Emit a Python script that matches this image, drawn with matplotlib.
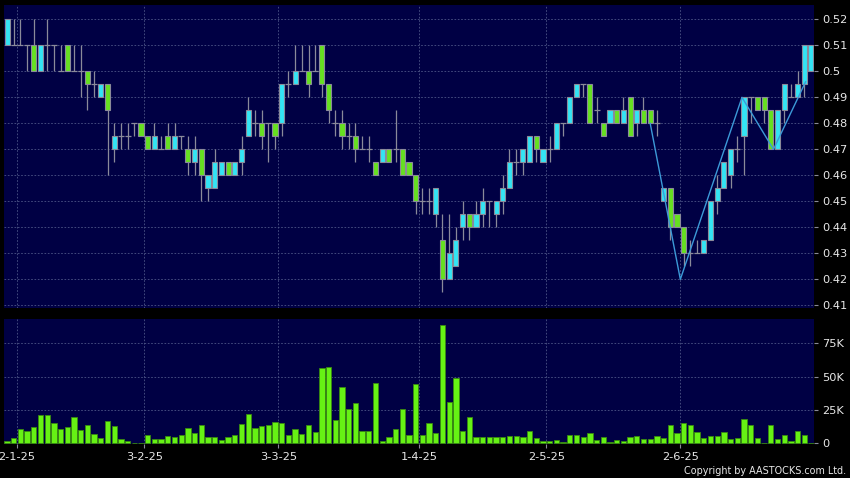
import matplotlib.pyplot as plt
import numpy as np

# daily candles, 30-12-24 .. 27-6-25 (trading days only)
opens = [0.51, 0.51, 0.51, 0.51, 0.51, 0.50, 0.51, 0.51, 0.50, 0.51,
         0.50, 0.50, 0.50, 0.495, 0.49, 0.495, 0.47, 0.475, 0.475, 0.48,
         0.48, 0.475, 0.47, 0.47, 0.475, 0.47, 0.475, 0.47, 0.465, 0.47,
         0.455, 0.455, 0.46, 0.465, 0.46, 0.465, 0.475, 0.48, 0.48, 0.48,
         0.48, 0.48, 0.495, 0.495, 0.50, 0.50, 0.50, 0.51, 0.495, 0.48,
         0.48, 0.475, 0.475, 0.47, 0.47, 0.465, 0.465, 0.47, 0.47, 0.47,
         0.465, 0.46, 0.45, 0.45, 0.445, 0.435, 0.42, 0.425, 0.44, 0.445,
         0.44, 0.445, 0.45, 0.445, 0.45, 0.455, 0.465, 0.465, 0.465, 0.475,
         0.465, 0.47, 0.47, 0.48, 0.48, 0.49, 0.495, 0.495, 0.485, 0.48,
         0.48, 0.485, 0.48, 0.49, 0.48, 0.485, 0.485, 0.48, 0.45, 0.455,
         0.445, 0.44, 0.43, 0.43, 0.43, 0.435, 0.45, 0.455, 0.46, 0.47,
         0.475, 0.49, 0.49, 0.49, 0.485, 0.47, 0.485, 0.49, 0.49, 0.495,
         0.50]
highs = [0.52, 0.52, 0.52, 0.51, 0.52, 0.51, 0.52, 0.51, 0.51, 0.51,
         0.51, 0.51, 0.50, 0.50, 0.495, 0.495, 0.48, 0.48, 0.48, 0.48,
         0.48, 0.475, 0.48, 0.475, 0.48, 0.48, 0.475, 0.475, 0.475, 0.47,
         0.46, 0.47, 0.465, 0.465, 0.465, 0.475, 0.49, 0.485, 0.485, 0.48,
         0.48, 0.495, 0.50, 0.51, 0.51, 0.51, 0.51, 0.51, 0.495, 0.485,
         0.485, 0.48, 0.48, 0.475, 0.475, 0.465, 0.47, 0.47, 0.485, 0.47,
         0.465, 0.46, 0.455, 0.455, 0.455, 0.445, 0.445, 0.44, 0.45, 0.445,
         0.45, 0.455, 0.45, 0.45, 0.46, 0.47, 0.47, 0.47, 0.475, 0.475,
         0.47, 0.475, 0.48, 0.48, 0.49, 0.495, 0.495, 0.495, 0.49, 0.48,
         0.485, 0.485, 0.49, 0.49, 0.485, 0.49, 0.485, 0.485, 0.455, 0.455,
         0.445, 0.44, 0.435, 0.435, 0.435, 0.45, 0.46, 0.465, 0.47, 0.475,
         0.49, 0.49, 0.49, 0.49, 0.485, 0.485, 0.495, 0.495, 0.50, 0.51,
         0.51]
lows = [0.51, 0.51, 0.51, 0.50, 0.50, 0.50, 0.50, 0.50, 0.50, 0.50,
        0.50, 0.49, 0.485, 0.49, 0.49, 0.46, 0.465, 0.47, 0.47, 0.475,
        0.475, 0.47, 0.47, 0.47, 0.47, 0.47, 0.47, 0.46, 0.46, 0.45,
        0.45, 0.455, 0.46, 0.46, 0.46, 0.46, 0.475, 0.475, 0.47, 0.465,
        0.47, 0.475, 0.49, 0.495, 0.50, 0.49, 0.50, 0.49, 0.48, 0.475,
        0.47, 0.47, 0.465, 0.47, 0.465, 0.46, 0.465, 0.465, 0.465, 0.46,
        0.46, 0.445, 0.445, 0.445, 0.44, 0.415, 0.42, 0.425, 0.435, 0.435,
        0.44, 0.44, 0.44, 0.44, 0.445, 0.455, 0.46, 0.46, 0.465, 0.465,
        0.465, 0.465, 0.47, 0.475, 0.48, 0.49, 0.49, 0.48, 0.48, 0.475,
        0.48, 0.48, 0.48, 0.475, 0.475, 0.48, 0.48, 0.475, 0.45, 0.435,
        0.44, 0.425, 0.425, 0.43, 0.43, 0.435, 0.445, 0.455, 0.455, 0.465,
        0.46, 0.48, 0.485, 0.48, 0.47, 0.47, 0.48, 0.49, 0.49, 0.49,
        0.50]
closes = [0.52, 0.51, 0.51, 0.51, 0.50, 0.51, 0.51, 0.51, 0.50, 0.50,
          0.50, 0.50, 0.495, 0.495, 0.495, 0.485, 0.475, 0.475, 0.475, 0.48,
          0.475, 0.47, 0.475, 0.47, 0.47, 0.475, 0.475, 0.465, 0.47, 0.46,
          0.46, 0.465, 0.465, 0.46, 0.465, 0.47, 0.485, 0.48, 0.475, 0.48,
          0.475, 0.495, 0.495, 0.50, 0.50, 0.495, 0.50, 0.495, 0.485, 0.48,
          0.475, 0.475, 0.47, 0.47, 0.47, 0.46, 0.47, 0.465, 0.47, 0.46,
          0.46, 0.45, 0.45, 0.45, 0.455, 0.42, 0.43, 0.435, 0.445, 0.44,
          0.445, 0.45, 0.45, 0.45, 0.455, 0.465, 0.465, 0.47, 0.475, 0.47,
          0.47, 0.47, 0.48, 0.48, 0.49, 0.495, 0.495, 0.48, 0.485, 0.475,
          0.485, 0.48, 0.485, 0.475, 0.485, 0.48, 0.48, 0.48, 0.455, 0.44,
          0.44, 0.43, 0.43, 0.43, 0.435, 0.45, 0.455, 0.465, 0.47, 0.47,
          0.49, 0.49, 0.485, 0.485, 0.47, 0.485, 0.495, 0.49, 0.495, 0.51,
          0.51]
volumes_k = [2.2, 4.0, 10.7, 9.2, 12.5, 21.7, 21.7, 15.0, 11.0, 12.2,
             20.2, 10.2, 13.7, 7.0, 4.0, 17.2, 13.2, 3.7, 2.2, 0.7,
             0.2, 6.7, 3.2, 3.0, 5.5, 4.7, 6.2, 11.7, 8.2, 13.7,
             5.0, 5.0, 2.5, 4.7, 6.5, 14.5, 22.2, 11.7, 13.0, 14.2,
             16.2, 15.2, 6.2, 11.2, 7.2, 13.5, 8.5, 56.7, 57.5, 17.7,
             42.7, 25.7, 30.5, 9.7, 9.7, 45.2, 1.5, 5.0, 10.7, 25.7,
             6.2, 44.5, 6.2, 15.5, 8.0, 88.5, 31.0, 49.0, 9.0, 20.0,
             4.7, 4.7, 4.7, 5.0, 5.0, 5.5, 5.5, 4.5, 9.5, 4.2,
             2.0, 1.7, 2.7, 1.2, 6.0, 6.0, 4.7, 7.5, 2.5, 4.5,
             1.2, 2.5, 1.5, 4.5, 5.5, 3.0, 3.5, 5.7, 4.0, 13.7,
             7.5, 15.2, 13.5, 8.5, 4.0, 5.7, 5.7, 8.5, 3.5, 4.2,
             18.0, 14.2, 4.0, 0.3, 13.5, 3.5, 6.7, 2.0, 9.5, 6.0,
             0.3]

# zigzag overlay (day index, price)
zigzag_x = [96, 100.5, 109.7, 114.4, 119.2]
zigzag_y = [0.48, 0.42, 0.49, 0.47, 0.496]

# first trading day of each month, as day index
month_idx = [2, 21, 41, 62, 81, 101]
month_labels = ['2-1-25', '3-2-25', '3-3-25', '1-4-25', '2-5-25', '2-6-25']

price_ticks = [0.41, 0.42, 0.43, 0.44, 0.45, 0.46, 0.47, 0.48, 0.49, 0.50, 0.51, 0.52]
price_labels = ['0.41', '0.42', '0.43', '0.44', '0.45', '0.46', '0.47', '0.48',
                '0.49', '0.5', '0.51', '0.52']
vol_ticks = [0, 25, 50, 75]
vol_labels = ['0', '25K', '50K', '75K']

BG = '#000044'
CYAN = '#33e4f4'
GREEN = '#66e020'
EDGE = '#8a8a9a'
GRID = '#4e5688'
TXT = '#e8e8e8'
DASH = (0, (2, 2))

o = np.array(opens)
h = np.array(highs)
lo = np.array(lows)
c = np.array(closes)
x = np.arange(len(o))
grid_x = np.array(month_idx) - 0.5

fig = plt.figure(figsize=(8.5, 4.78), dpi=100, facecolor='black')
ax = fig.add_axes([4 / 850, 1 - 308 / 478, 810 / 850, 302.7 / 478])
axv = fig.add_axes([4 / 850, 1 - 444 / 478, 810 / 850, 125 / 478])

for a in (ax, axv):
    a.set_facecolor(BG)
    for s in a.spines.values():
        s.set_visible(False)
    a.set_xlim(-0.45, len(o) - 0.55)
    a.yaxis.tick_right()
    a.tick_params(axis='y', colors=EDGE, labelcolor=TXT, labelsize=8.2,
                  length=3, width=0.8, pad=3)
    for gx in grid_x:
        a.axvline(gx, color=GRID, lw=0.6, ls=DASH, zorder=0)

# price panel
ax.set_ylim(0.409, 0.5254)
ax.set_yticks(price_ticks)
ax.set_yticklabels(price_labels)
ax.set_xticks([])
for py in price_ticks:
    ax.axhline(py, color=GRID, lw=0.6, ls=DASH, zorder=0)

up = c > o
down = c < o
flat = c == o
ax.vlines(x, lo, h, color=EDGE, lw=0.9, zorder=2)
ax.bar(x[up], (c - o)[up], bottom=o[up], width=0.75, color=CYAN,
       edgecolor=EDGE, linewidth=0.8, zorder=3)
ax.bar(x[down], (o - c)[down], bottom=c[down], width=0.75, color=GREEN,
       edgecolor=EDGE, linewidth=0.8, zorder=3)
ax.hlines(c[flat], x[flat] - 0.45, x[flat] + 0.45, color=EDGE, lw=0.9, zorder=3)
ax.plot(zigzag_x, zigzag_y, color='#3c9ad8', lw=1.0, zorder=4)

# volume panel
axv.set_ylim(-0.4, 93.3)
axv.set_yticks(vol_ticks)
axv.set_yticklabels(vol_labels)
for vy in vol_ticks[1:]:
    axv.axhline(vy, color=GRID, lw=0.6, ls=DASH, zorder=0)
axv.bar(x, volumes_k, width=0.8, color='#66f214', edgecolor='#3a8a10',
        linewidth=0.6, zorder=2)
axv.set_xticks(grid_x)
axv.set_xticklabels(month_labels)
axv.tick_params(axis='x', colors=EDGE, labelcolor=TXT, labelsize=8.2,
                length=3, width=0.8, pad=3)

fig.text(846 / 850, 1 - 471 / 478, 'Copyright by AASTOCKS.com Ltd.',
         color=TXT, fontsize=6.9, ha='right', va='center')

fig.savefig('out.png', dpi=100, facecolor='black')
